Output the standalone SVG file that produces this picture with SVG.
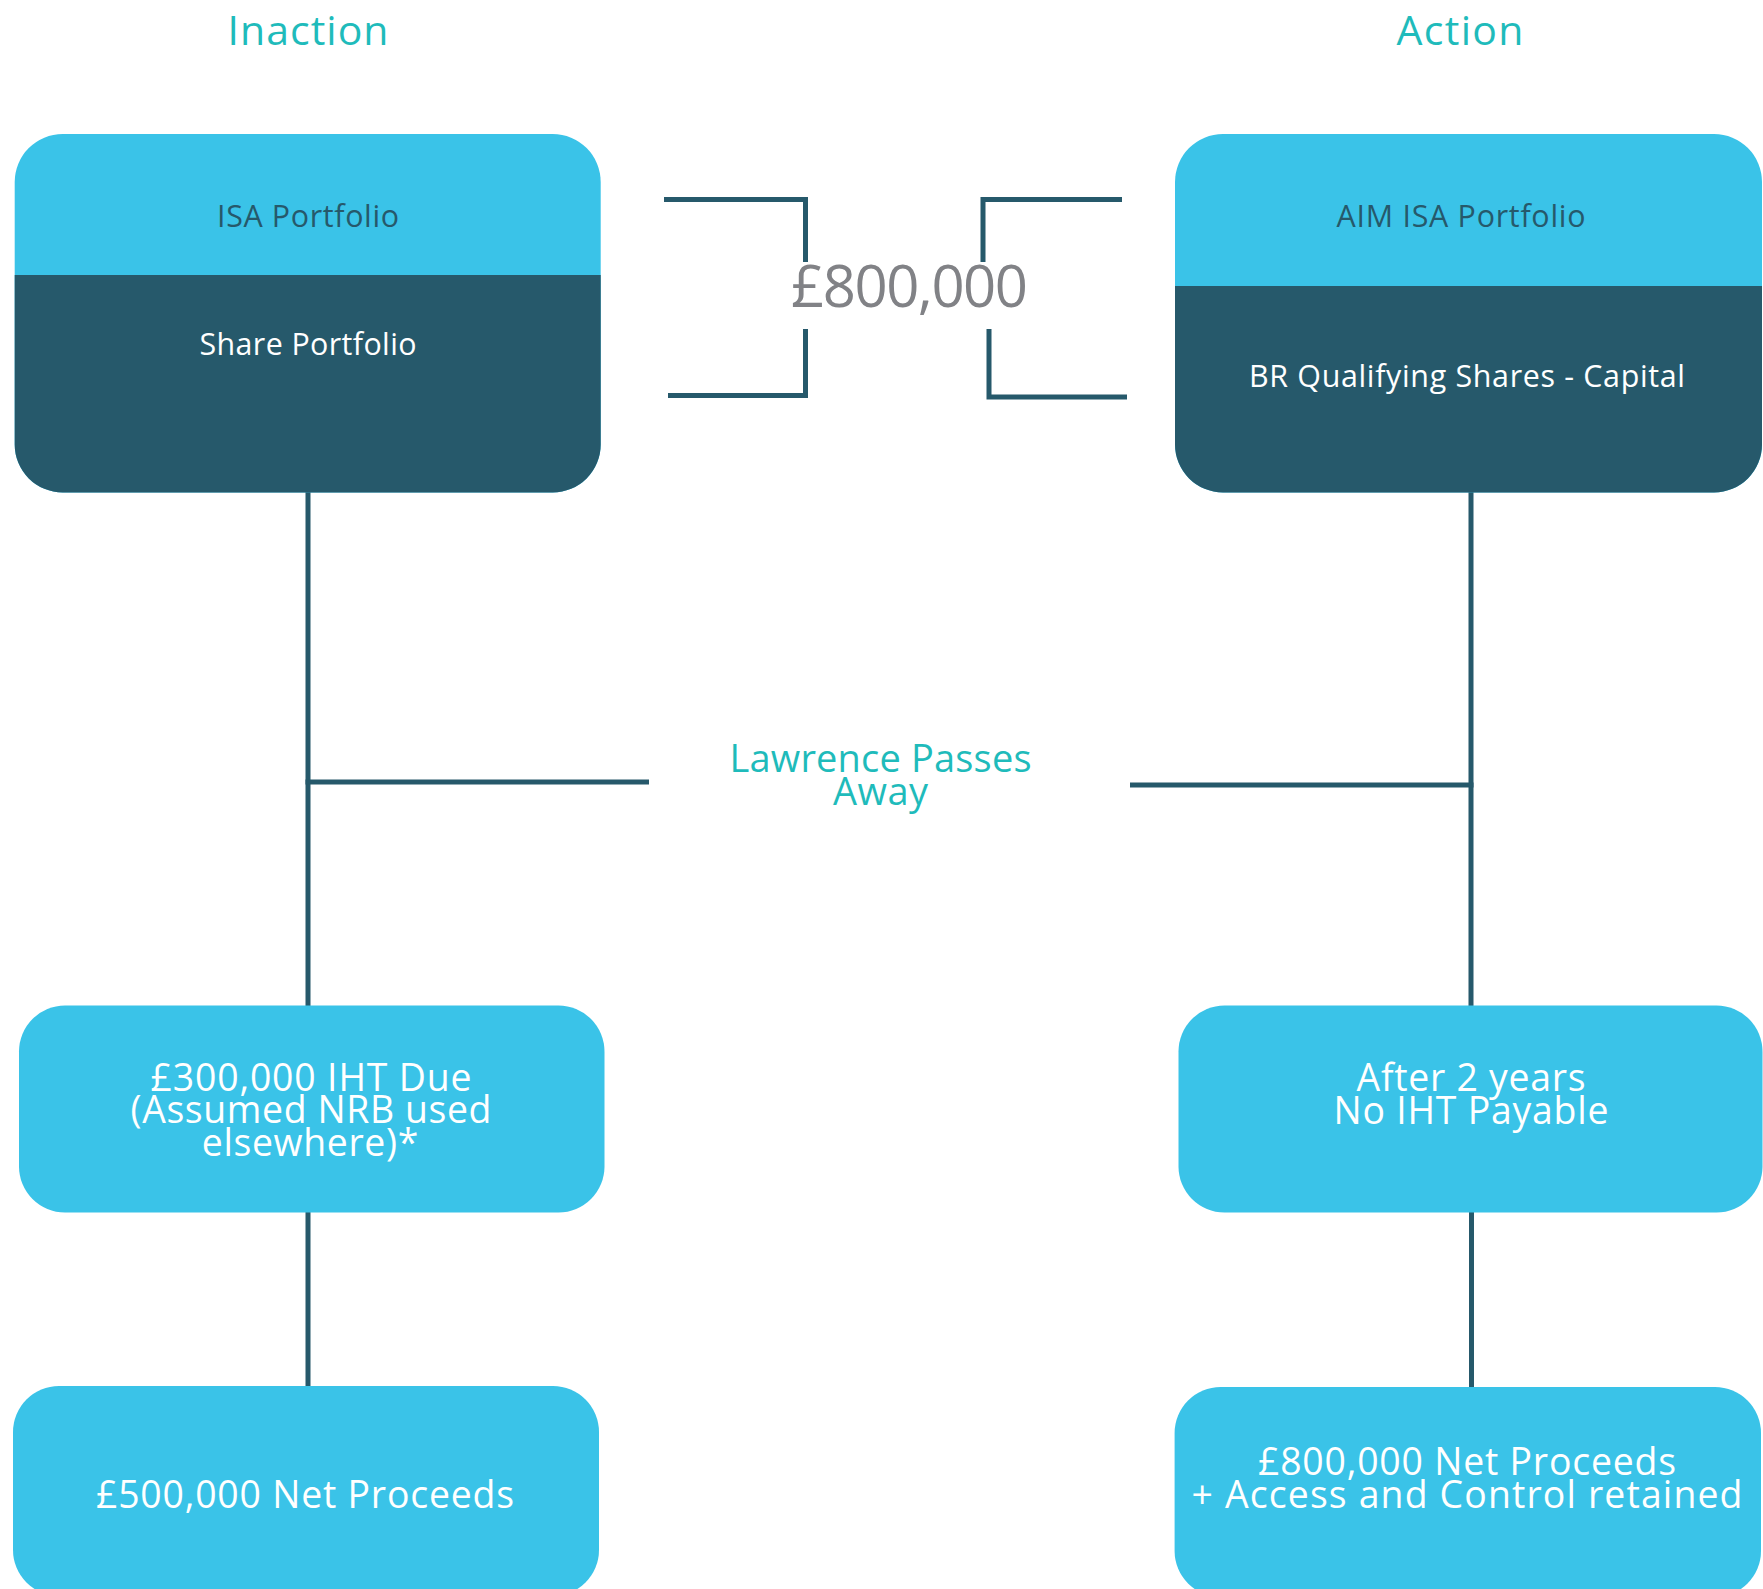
<svg xmlns="http://www.w3.org/2000/svg" width="1763" height="1589" viewBox="0 0 1763 1589">
<style>
.bg{fill:#ffffff}
.light{fill:#3ac3e8}
.dark{fill:#26596b}
.ln{stroke:#26596b;stroke-width:5;fill:none;stroke-linecap:butt;stroke-linejoin:miter}
text{font-family:"Open Sans","Noto Sans","Liberation Sans",sans-serif;text-anchor:middle}
.title{font-size:41px;fill:#1fbbbb}
.hdr{font-size:30.4px}
.dk{fill:#26596b}
.wt{fill:#ffffff}
.amt{font-size:58px;fill:#818286}
.evt{font-size:38px;fill:#1fbbbb}
.body{font-size:37.4px;fill:#ffffff}
</style>
<rect class="bg" x="0" y="0" width="1763" height="1589"/>

<g id="titles">
<text class="title" x="308" y="45" textLength="161">Inaction</text>
<text class="title" x="1460" y="45" textLength="127">Action</text>
</g>

<g id="connectors">
<line class="ln" x1="308" y1="480" x2="308" y2="1010"/>
<line class="ln" x1="305.5" y1="782" x2="649" y2="782"/>
<line class="ln" x1="1471" y1="480" x2="1471" y2="1010"/>
<line class="ln" x1="1130" y1="785" x2="1473.5" y2="785"/>
<line class="ln" x1="308" y1="1205" x2="308" y2="1392"/>
<line class="ln" x1="1471.5" y1="1205" x2="1471.5" y2="1392"/>
<polyline class="ln" points="664,199.5 805.5,199.5 805.5,262"/>
<polyline class="ln" points="805.5,329 805.5,395.5 668,395.5"/>
<polyline class="ln" points="1122,199.5 983,199.5 983,262"/>
<polyline class="ln" points="989,329 989,397 1127,397"/>
</g>

<g id="amount">
<text class="amt" x="909.5" y="307" textLength="237">£800,000</text>
</g>

<g id="event">
<text class="evt" x="880.5" y="772" textLength="302">Lawrence Passes</text>
<text class="evt" x="880.5" y="805" textLength="95">Away</text>
</g>

<g id="isa-portfolio">
<rect class="light" x="14.7" y="134" width="586" height="358.5" rx="48" ry="48"/>
<path class="dark" d="M14.7,275 H600.7 V444.5 A48,48 0 0 1 552.7,492.5 H62.7 A48,48 0 0 1 14.7,444.5 Z"/>
<text class="hdr dk" x="308" y="227" textLength="182">ISA Portfolio</text>
<text class="hdr wt" x="308" y="355" textLength="217">Share Portfolio</text>
</g>

<g id="aim-isa-portfolio">
<rect class="light" x="1175" y="134" width="587" height="358.5" rx="48" ry="48"/>
<path class="dark" d="M1175,286 H1762 V444.5 A48,48 0 0 1 1714,492.5 H1223 A48,48 0 0 1 1175,444.5 Z"/>
<text class="hdr dk" x="1461" y="227" textLength="249">AIM ISA Portfolio</text>
<text class="hdr wt" x="1467" y="387" textLength="436">BR Qualifying Shares - Capital</text>
</g>

<g id="iht-due">
<rect class="light" x="19" y="1005.5" width="585.5" height="207" rx="46" ry="46"/>
<text class="body" x="311" y="1091" textLength="321">£300,000 IHT Due</text>
<text class="body" x="311" y="1123" textLength="361">(Assumed NRB used</text>
<text class="body" x="310" y="1155.5" textLength="216.5">elsewhere)*</text>
</g>

<g id="no-iht">
<rect class="light" x="1178.5" y="1005.5" width="584" height="207" rx="46" ry="46"/>
<text class="body" x="1471" y="1091" textLength="229">After 2 years</text>
<text class="body" x="1471" y="1123.5" textLength="275">No IHT Payable</text>
</g>

<g id="net-500">
<rect class="light" x="13" y="1386" width="586" height="210" rx="46" ry="46"/>
<text class="body" x="305" y="1507.5" textLength="418">£500,000 Net Proceeds</text>
</g>

<g id="net-800">
<rect class="light" x="1174.6" y="1387" width="586.4" height="210" rx="46" ry="46"/>
<text class="body" x="1467" y="1475" textLength="418">£800,000 Net Proceeds</text>
<text class="body" x="1467" y="1507.5" textLength="551">+ Access and Control retained</text>
</g>
</svg>
